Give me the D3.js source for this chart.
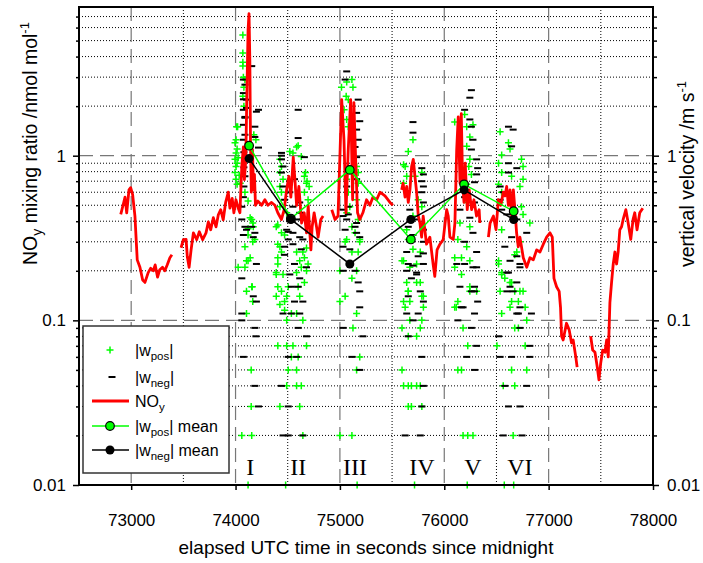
<!DOCTYPE html>
<html>
<head>
<meta charset="utf-8">
<script src="https://cdn.jsdelivr.net/npm/d3@7"></script>
<style>
  body { margin: 0; background: #fff; }
  svg { display: block; }
  text { font-family: "Liberation Sans", Arial, sans-serif; fill: #000; }
</style>
</head>
<body>
<svg id="chart" width="703" height="563"></svg>
<script>
// ---- data ---------------------------------------------------------------
const timeTicks = [73000, 74000, 75000, 76000, 77000, 78000];
const timeMinor = [73500, 74500, 75500, 76500, 77500];
const decadeTicks = [0.01, 0.1, 1];
const decadeLabels = ["0.01", "0.1", "1"];

// flight legs I..VI, placed at the time where each label sits
const legNames = ["I", "II", "III", "IV", "V", "VI"];
const legTimes = [74140, 74600, 75145, 75785, 76275, 76725];

// NOy mixing ratio [s, nmol/mol]; null marks a data gap
const noy = [
  [72900,0.44],[72922,0.50],[72941,0.56],[72957,0.45],[72979,0.62],[72995,0.64],[73014,0.58],[73036,0.43],
  [73058,0.233],[73084,0.21],[73110,0.176],[73132,0.17],[73163,0.195],[73186,0.207],[73211,0.20],[73230,0.217],
  [73253,0.183],[73274,0.203],[73300,0.21],[73322,0.20],[73345,0.217],[73371,0.24],[73390,0.25],
  [73430,null],
  [73478,0.276],[73500,0.309],[73526,0.31],[73538,0.243],[73555,0.21],[73574,0.268],[73596,0.34],[73628,0.309],
  [73653,0.345],[73685,0.309],[73717,0.34],[73739,0.396],[73762,0.355],[73787,0.42],[73813,0.37],[73835,0.438],
  [73858,0.47],[73882,0.408],[73905,0.52],[73930,0.60],[73946,0.48],[73968,0.55],[73984,0.45],[74004,0.54],
  [74026,0.48],[74042,0.45],[74060,0.86],[74075,1.13],[74085,0.715],[74098,0.95],[74107,2.1],[74120,5.8],
  [74129,7.3],[74137,3.8],[74143,1.25],[74151,0.6],[74162,1.09],[74172,0.62],[74181,0.77],[74191,0.5],
  [74215,0.53],[74250,0.50],[74281,0.54],[74310,0.50],[74345,0.52],[74377,0.50],[74405,0.45],[74440,0.41],
  [74466,0.47],[74489,0.62],[74511,0.75],[74530,0.56],[74553,0.98],[74569,0.715],[74585,0.50],[74607,0.65],
  [74633,0.39],[74658,0.45],[74680,0.34],[74696,0.50],[74722,0.268],[74734,0.37],[74753,0.45],[74776,0.37],
  [74791,0.32],[74817,0.41],[74839,0.43],
  [74880,null],
  [74922,0.47],[74953,0.41],[74982,0.43],[75017,2.19],[75039,1.25],[75058,0.45],[75080,1.09],[75103,2.19],
  [75122,0.54],[75134,2.1],[75153,0.86],[75169,0.45],[75191,0.41],[75220,0.45],[75255,0.54],[75287,0.50],
  [75316,0.56],[75352,0.54],[75384,0.6],[75432,0.57],[75480,0.52],[75508,0.50],
  [75550,null],
  [75592,0.62],[75605,0.68],[75624,0.56],[75640,0.65],[75655,0.52],[75671,0.62],[75687,0.86],[75703,0.95],
  [75719,0.75],[75735,0.6],[75751,0.43],[75767,0.39],[75783,0.32],[75798,0.43],[75830,0.29],[75862,0.32],
  [75893,0.22],[75909,0.185],[75931,0.268],[75958,0.29],[75990,0.31],[76023,0.47],[76038,0.43],[76054,0.32],
  [76086,0.31],[76102,0.39],[76119,1.09],[76134,1.72],[76151,0.68],[76163,1.8],[76176,0.68],[76189,0.52],
  [76201,0.9],[76220,0.47],[76239,0.62],[76262,0.47],[76284,0.54],[76309,0.43],[76334,0.47],[76341,0.39],
  [76380,null],
  [76423,0.32],[76439,0.39],[76471,0.43],[76496,0.355],[76518,0.54],[76541,0.50],[76566,0.60],[76582,0.57],
  [76598,0.65],[76614,0.50],[76630,0.62],[76646,0.43],[76662,0.62],[76677,0.47],[76693,0.34],[76709,0.28],
  [76725,0.32],[76757,0.24],[76790,0.21],[76821,0.24],[76853,0.233],[76885,0.268],[76917,0.26],[76949,0.29],
  [76981,0.32],[77013,0.34],[77035,0.32],[77051,0.18],[77076,0.16],[77101,0.15],[77114,0.12],[77124,0.08],
  [77139,0.076],[77171,0.096],[77197,0.0875],[77219,0.073],[77235,0.076],[77260,0.06],[77273,0.052],
  [77340,null],
  [77403,0.08],[77422,0.066],[77444,0.064],[77466,0.052],[77482,0.0435],[77499,0.055],[77518,0.066],[77540,0.064],
  [77556,0.076],[77571,0.06],[77587,0.128],[77603,0.17],[77619,0.22],[77635,0.26],[77651,0.22],[77666,0.26],
  [77682,0.355],[77699,0.37],[77714,0.41],[77740,0.47],[77762,0.39],[77787,0.31],[77809,0.41],[77825,0.45],
  [77847,0.355],[77873,0.45],[77902,0.48]
];

// |w_pos| samples [s, m/s]
const wPos = [
  // leg I
  [74070,5.4],[74070,4.2],[74070,3.7],[74070,3.5],[74075,3.0],[74080,2.6],[74070,2.3],[74080,2.0],[74010,1.5],
  [74005,1.25],[74175,1.34],[74195,1.25],[74005,1.04],[73995,0.95],[74005,0.86],[73995,0.79],[74005,0.72],
  [74090,0.6],[74155,0.41],[74170,0.37],[74120,0.36],[74090,0.28],[74185,0.31],[74105,0.23],[74140,0.24],
  [74025,0.21],[74090,0.21],[74155,0.16],[74105,0.15],[74105,0.11],[74150,0.05],[74150,0.03],[74060,0.02],
  [74155,0.02],[74120,0.01],[74015,1.1],[74025,0.97],[74015,0.9],[74035,0.76],[74015,0.67],[74090,2.9],
  [74020,1.5],[73995,1.2],[74045,0.68],[74120,0.53],[74140,0.42],[74165,0.39],[74120,0.33],[74165,0.3],
  [74120,0.23],[74160,0.16],[74165,0.13],
  // leg II
  [74600,1.15],[74520,1.06],[74425,0.95],[74630,0.99],[74440,0.86],[74425,0.79],[74455,0.72],[74425,0.65],
  [74670,0.79],[74685,0.70],[74705,0.65],[74660,0.6],[74440,0.6],[74695,0.54],[74425,0.49],[74490,0.45],
  [74390,0.37],[74440,0.34],[74425,0.28],[74405,0.38],[74470,0.33],[74405,0.29],[74440,0.26],[74585,0.26],
  [74680,0.275],[74660,0.24],[74615,0.23],[74695,0.22],[74405,0.22],[74680,0.2],[74390,0.19],[74455,0.19],
  [74660,0.17],[74505,0.16],[74405,0.16],[74615,0.14],[74390,0.14],[74470,0.13],[74490,0.10],[74645,0.10],
  [74405,0.07],[74490,0.07],[74550,0.07],[74680,0.07],[74535,0.06],[74600,0.06],[74505,0.05],[74585,0.05],
  [74490,0.04],[74585,0.04],[74630,0.04],[74425,0.03],[74615,0.03],[74645,0.02],[74480,0.01],
  [74585,1.13],[74550,1.04],[74660,0.75],[74680,0.68],[74405,0.24],[74645,0.26],[74630,0.21],[74390,0.195],
  [74585,0.195],[74600,0.16],[74440,0.15],[74490,0.14],[74425,0.125],[74470,0.115],[74535,0.11],[74585,0.11],
  // leg III
  [75115,2.9],[75065,2.8],[75125,2.6],[75015,2.6],[75060,2.3],[75080,2.19],[75040,1.9],[75065,1.66],[75080,1.5],
  [75160,0.86],[75175,0.79],[75065,0.72],[75175,0.68],[75080,0.6],[75160,0.54],[75095,0.49],[75065,0.45],
  [75175,0.41],[75115,0.37],[75145,0.34],[75065,0.31],[75190,0.31],[75190,0.30],[75050,0.30],[75115,0.26],
  [75175,0.26],[75000,0.2],[75160,0.2],[75115,0.18],[75050,0.14],[75000,0.13],[75160,0.11],
  [75125,0.09],[75190,0.06],[75160,0.05],[75000,0.02],[75115,0.02],[75165,0.01],
  // leg IV
  [75700,1.25],[75655,1.06],[75625,0.86],[75610,0.68],[75720,0.75],[75785,0.79],[75640,0.355],[75655,0.31],
  [75700,0.27],[75610,0.23],[75770,0.26],[75670,0.21],[75735,0.17],[75655,0.15],[75800,0.14],[75595,0.23],
  [75735,0.22],[75640,0.17],[75770,0.17],[75655,0.15],[75785,0.14],[75610,0.13],[75670,0.13],[75625,0.12],
  [75800,0.12],[75670,0.10],[75785,0.10],[75595,0.09],[75770,0.09],[75655,0.08],[75735,0.08],[75595,0.05],
  [75610,0.04],[75655,0.04],[75685,0.04],[75735,0.04],[75770,0.04],[75655,0.03],[75685,0.03],[75785,0.03],
  [75715,0.01],[75610,0.88],[75640,0.75],[75750,0.54],[75785,0.49],[75700,0.43],
  // leg V
  [76195,1.78],[76100,1.6],[76275,1.54],[76215,1.5],[76245,1.3],[76215,1.14],[76245,0.95],[76260,0.77],
  [76215,0.67],[76195,0.6],[76225,0.52],[76150,0.39],[76245,0.37],[76130,0.31],[76215,0.28],[76100,0.24],
  [76245,0.23],[76165,0.19],[76245,0.15],[76310,0.15],[76130,0.13],[76115,0.12],[76165,0.24],[76100,0.21],
  [76245,0.16],[76100,0.12],[76180,0.09],[76225,0.07],[76130,0.05],[76165,0.05],[76180,0.02],[76225,0.02],
  [76275,0.02],[76220,0.01],[76235,0.86],[76175,0.77],
  // leg VI
  [76535,1.4],[76615,1.2],[76550,1.01],[76630,1.1],[76740,0.95],[76520,0.9],[76550,0.79],[76645,0.75],
  [76755,0.86],[76725,0.65],[76755,0.72],[76520,0.67],[76550,0.6],[76535,0.52],[76740,0.49],[76755,0.44],
  [76820,0.39],[76550,0.355],[76725,0.30],[76695,0.26],[76520,0.23],[76550,0.195],[76580,0.18],[76630,0.17],
  [76755,0.15],[76675,0.15],[76710,0.13],[76630,0.12],[76775,0.12],[76520,0.22],[76675,0.25],[76550,0.19],
  [76645,0.17],[76535,0.15],[76725,0.15],[76645,0.13],[76550,0.11],[76790,0.10],[76675,0.09],[76710,0.09],
  [76505,0.07],[76775,0.07],[76645,0.05],[76790,0.05],[76565,0.04],[76675,0.04],[76660,0.02],[76575,0.01],
  [76665,0.01]
];

// |w_neg| samples [s, m/s]
const wNeg = [
  // leg I
  [74155,3.5],[74075,2.9],[74090,2.7],[74075,2.4],[74105,2.19],[74075,1.9],[74220,1.9],[74090,1.7],[74185,1.5],
  [74075,1.25],[74220,1.12],[74075,0.56],[74060,0.49],[74060,0.41],[74090,0.37],[74155,0.37],[74185,0.34],
  [74075,0.33],[74105,0.355],[74170,0.32],[74200,0.22],[74060,0.18],[74170,0.14],[74200,0.13],[74060,0.11],
  [74060,0.10],[74185,0.09],[74195,0.08],[74075,0.06],[74185,0.04],[74220,0.03],
  [74075,2.2],[74105,1.95],[74200,1.85],[74090,1.72],[74075,1.54],[74090,1.34],[74185,1.3],[74120,1.17],
  [74080,1.05],[74080,0.85],[74090,0.75],[74080,0.65],
  // leg II
  [74600,1.9],[74600,1.28],[74440,1.04],[74440,1.0],[74440,0.95],[74455,0.86],[74440,0.79],[74520,0.7],
  [74565,0.72],[74455,0.65],[74520,0.6],[74470,0.54],[74615,0.52],[74550,0.49],[74615,0.45],[74645,0.41],
  [74520,0.4],[74490,0.355],[74550,0.34],[74505,0.31],[74645,0.31],[74470,0.28],[74585,0.41],[74505,0.345],
  [74615,0.32],[74550,0.29],[74630,0.27],[74470,0.25],[74565,0.22],[74680,0.21],[74520,0.19],[74615,0.18],
  [74535,0.16],[74600,0.16],[74565,0.13],[74645,0.13],[74455,0.11],[74535,0.11],[74615,0.11],[74600,0.09],
  [74680,0.08],[74505,0.06],[74585,0.06],[74440,0.04],[74505,0.03],[74455,0.02],[74505,0.02],[74645,0.02],
  [74660,0.98],
  // leg III
  [75065,3.25],[75050,2.9],[75175,2.19],[75160,1.82],[75190,1.62],[75160,1.44],[75175,1.25],[75145,1.13],
  [75160,0.98],[75125,0.79],[75160,0.72],[75065,0.65],[75145,0.6],[75080,0.49],[75030,0.43],[75065,0.41],
  [75145,0.37],[75050,0.355],[75160,0.34],[75030,0.28],[75030,0.47],[75080,0.44],[75160,0.39],[75190,0.32],
  [75095,0.27],[75030,0.2],[75145,0.2],[75175,0.17],[75190,0.15],[75190,0.12],[75030,0.09],[75220,0.08],
  [75115,0.06],[75190,0.05],
  // leg IV
  [75700,1.6],[75700,1.38],[75785,0.84],[75800,0.77],[75785,0.7],[75800,0.65],[75785,0.6],[75800,0.52],
  [75670,0.47],[75735,0.41],[75655,0.37],[75800,0.355],[75700,0.33],[75800,0.30],[75640,0.26],[75750,0.245],
  [75655,0.22],[75800,0.22],[75640,0.2],[75735,0.195],[75685,0.18],[75800,0.255],[75700,0.215],[75735,0.19],
  [75770,0.15],[75655,0.14],[75800,0.13],[75640,0.11],[75750,0.11],[75700,0.10],[75655,0.08],[75785,0.06],
  [75800,0.04],[75785,0.03],[75625,0.02],[75770,0.02],[75750,0.01],
  // leg V
  [76260,2.5],[76245,2.25],[76195,1.9],[76245,1.66],[76260,1.5],[76275,1.25],[76260,1.09],[76310,0.95],
  [76320,0.84],[76310,0.77],[76290,0.69],[76195,0.56],[76290,0.52],[76150,0.47],[76245,0.42],[76275,0.34],
  [76195,0.30],[76310,0.26],[76195,0.22],[76310,0.21],[76150,0.16],[76290,0.15],[76180,0.12],[76120,0.22],
  [76275,0.21],[76290,0.16],[76260,0.15],[76165,0.12],[76320,0.13],[76290,0.11],[76130,0.10],[76260,0.09],
  [76310,0.07],[76215,0.06],[76290,0.05],
  // leg VI
  [76615,1.5],[76660,1.44],[76645,1.14],[76615,0.9],[76695,0.84],[76615,0.79],[76535,0.65],[76565,0.6],
  [76535,0.54],[76550,0.47],[76600,0.44],[76695,0.41],[76790,0.34],[76645,0.32],[76580,0.28],[76695,0.245],
  [76725,0.21],[76615,0.195],[76695,0.17],[76600,0.15],[76725,0.12],[76710,0.11],[76630,0.23],[76725,0.22],
  [76600,0.195],[76630,0.16],[76660,0.15],[76695,0.11],[76835,0.11],[76725,0.09],[76520,0.08],[76820,0.07],
  [76535,0.06],[76645,0.06],[76820,0.06],[76580,0.04],[76790,0.04],[76615,0.03],[76725,0.03],[76565,0.02],
  [76745,0.02]
];

// leg means of |w_pos| and |w_neg|
const posMean = [[74130,1.15],[74530,0.415],[75095,0.82],[75680,0.31],[76190,0.67],[76665,0.46]];
const negMean = [[74130,0.96],[74530,0.41],[75095,0.22],[75680,0.41],[76190,0.62],[76665,0.41]];

// ---- layout -------------------------------------------------------------
const L = 79, R = 653, T = 7, B = 485;
const GREEN = "#00ff00", RED = "#ff0000";

const x = d3.scaleLinear().domain([72500, 78000]).range([L, R]);
const y = d3.scaleLog().domain([0.01, 8]).range([B, T]);

const svg = d3.select("#chart");

const minorY = [];
[0.01, 0.1, 1].forEach(dec => {
  for (let k = 2; k <= 9; k++) {
    const v = +(dec * k).toPrecision(3);
    if (v < 8) minorY.push(v);
  }
});

// ---- grid ---------------------------------------------------------------
const grid = svg.append("g");
grid.selectAll(".hminor").data(minorY).join("line")
  .attr("x1", L).attr("x2", R)
  .attr("y1", d => y(d)).attr("y2", d => y(d))
  .attr("stroke", "#000").attr("stroke-width", 1).attr("stroke-dasharray", "1,2");
grid.selectAll(".vminor").data(timeMinor).join("line")
  .attr("x1", d => x(d)).attr("x2", d => x(d))
  .attr("y1", T).attr("y2", B)
  .attr("stroke", "#000").attr("stroke-width", 1).attr("stroke-dasharray", "1,2");
grid.selectAll(".hmajor").data([0.1, 1]).join("line")
  .attr("x1", L).attr("x2", R)
  .attr("y1", d => y(d)).attr("y2", d => y(d))
  .attr("stroke", "#777").attr("stroke-width", 1.2).attr("stroke-dasharray", "14,7");
grid.selectAll(".vmajor").data(timeTicks.filter(t => t < 78000)).join("line")
  .attr("x1", d => x(d)).attr("x2", d => x(d))
  .attr("y1", T).attr("y2", B)
  .attr("stroke", "#777").attr("stroke-width", 1.2).attr("stroke-dasharray", "14,7");

// ---- vertical velocity samples ------------------------------------------
svg.append("g").selectAll("path").data(wPos).join("path")
  .attr("transform", d => `translate(${x(d[0])},${y(d[1])})`)
  .attr("d", "M-3.5,0H3.5M0,-3.5V3.5")
  .attr("stroke", GREEN).attr("stroke-width", 1.5).attr("fill", "none");

svg.append("g").selectAll("path").data(wNeg).join("path")
  .attr("transform", d => `translate(${x(d[0])},${y(d[1])})`)
  .attr("d", "M-3.5,0H3.5")
  .attr("stroke", "#000").attr("stroke-width", 2).attr("fill", "none");

// ---- NOy ----------------------------------------------------------------
const noyLine = d3.line()
  .defined(d => d[1] !== null)
  .x(d => x(d[0])).y(d => y(d[1]));
svg.append("path").datum(noy)
  .attr("d", noyLine)
  .attr("fill", "none").attr("stroke", RED).attr("stroke-width", 2.8)
  .attr("stroke-linejoin", "round");

// ---- leg means ----------------------------------------------------------
const meanLine = d3.line().x(d => x(d[0])).y(d => y(d[1]));
svg.append("path").datum(posMean).attr("d", meanLine)
  .attr("fill", "none").attr("stroke", GREEN).attr("stroke-width", 1.5);
svg.append("g").selectAll("circle").data(posMean).join("circle")
  .attr("cx", d => x(d[0])).attr("cy", d => y(d[1])).attr("r", 4.3)
  .attr("fill", GREEN).attr("stroke", "#000").attr("stroke-width", 1.2);
svg.append("path").datum(negMean).attr("d", meanLine)
  .attr("fill", "none").attr("stroke", "#000").attr("stroke-width", 1.5);
svg.append("g").selectAll("circle").data(negMean).join("circle")
  .attr("cx", d => x(d[0])).attr("cy", d => y(d[1])).attr("r", 4.5)
  .attr("fill", "#000");

// ---- leg labels ---------------------------------------------------------
svg.append("g").selectAll("text").data(legNames).join("text")
  .attr("x", (d, i) => x(legTimes[i]))
  .attr("y", 475)
  .attr("text-anchor", "middle")
  .style("font-family", "'Liberation Serif', 'Times New Roman', serif")
  .attr("font-size", 24)
  .text(d => d);

// ---- axes ---------------------------------------------------------------
function styleAxis(g) {
  g.select(".domain").remove();
  g.selectAll(".tick line").attr("stroke", "#000").attr("stroke-width", 1.5);
  g.selectAll(".tick text").attr("font-size", 17)
    .style("font-family", "'Liberation Sans', Arial, sans-serif");
}
const fmtY = d => decadeLabels[decadeTicks.indexOf(d)];

svg.append("g").attr("transform", `translate(${L},0)`)
  .call(d3.axisLeft(y).tickValues(decadeTicks).tickFormat(fmtY).tickSize(6).tickPadding(7).tickSizeOuter(0))
  .call(styleAxis);
svg.append("g").attr("transform", `translate(${L},0)`)
  .call(d3.axisLeft(y).tickValues(minorY).tickFormat("").tickSize(3).tickSizeOuter(0))
  .call(styleAxis);
svg.append("g").attr("transform", `translate(${R},0)`)
  .call(d3.axisRight(y).tickValues(decadeTicks).tickFormat(fmtY).tickSize(6).tickPadding(8).tickSizeOuter(0))
  .call(styleAxis);
svg.append("g").attr("transform", `translate(${R},0)`)
  .call(d3.axisRight(y).tickValues(minorY).tickFormat("").tickSize(4).tickSizeOuter(0))
  .call(styleAxis);
svg.append("g").attr("transform", `translate(0,${B})`)
  .call(d3.axisBottom(x).tickValues(timeTicks).tickFormat(d3.format("d")).tickSize(5).tickPadding(24).tickSizeOuter(0))
  .call(styleAxis);

// frame
svg.append("rect").attr("x", L).attr("y", T).attr("width", R - L).attr("height", B - T)
  .attr("fill", "none").attr("stroke", "#000").attr("stroke-width", 2);

// ---- titles -------------------------------------------------------------
svg.append("text").attr("x", (L + R) / 2).attr("y", 554)
  .attr("text-anchor", "middle").attr("font-size", 19)
  .text("elapsed UTC time in seconds since midnight");

const yTitle = svg.append("text").attr("transform", "translate(37,265) rotate(-90)")
  .attr("font-size", 19.5);
yTitle.append("tspan").text("NO");
yTitle.append("tspan").attr("font-size", 14).attr("dy", 5).text("y");
yTitle.append("tspan").attr("dy", -5).text(" mixing ratio /nmol mol");
yTitle.append("tspan").attr("font-size", 13).attr("dy", -8).text("-1");

const y2Title = svg.append("text").attr("transform", "translate(694,267) rotate(-90)")
  .attr("font-size", 19.5);
y2Title.append("tspan").text("vertical velocity /m s");
y2Title.append("tspan").attr("font-size", 13).attr("dy", -8).text("-1");

// ---- legend -------------------------------------------------------------
const lg = svg.append("g");
lg.append("rect").attr("x", 83).attr("y", 326).attr("width", 146).attr("height", 147)
  .attr("fill", "#fff").attr("stroke", "#333").attr("stroke-width", 1.5);

const rows = [350, 377, 401, 426, 450];
const symX = 110, txtX = 135;

lg.append("path").attr("transform", `translate(${symX},${rows[0]})`)
  .attr("d", "M-3.5,0H3.5M0,-3.5V3.5").attr("stroke", GREEN).attr("stroke-width", 1.5);
lg.append("path").attr("transform", `translate(${symX + 2},${rows[1]})`)
  .attr("d", "M-3.5,0H3.5").attr("stroke", "#000").attr("stroke-width", 2);
lg.append("line").attr("x1", 92).attr("x2", 129).attr("y1", rows[2]).attr("y2", rows[2])
  .attr("stroke", RED).attr("stroke-width", 2.8);
lg.append("line").attr("x1", 92).attr("x2", 129).attr("y1", rows[3]).attr("y2", rows[3])
  .attr("stroke", GREEN).attr("stroke-width", 1.5);
lg.append("circle").attr("cx", symX).attr("cy", rows[3]).attr("r", 4.3)
  .attr("fill", GREEN).attr("stroke", "#000").attr("stroke-width", 1.2);
lg.append("line").attr("x1", 92).attr("x2", 129).attr("y1", rows[4]).attr("y2", rows[4])
  .attr("stroke", "#000").attr("stroke-width", 1.5);
lg.append("circle").attr("cx", symX).attr("cy", rows[4]).attr("r", 4.5).attr("fill", "#000");

function legendText(yc, main, sub, tail) {
  const t = lg.append("text").attr("x", txtX).attr("y", yc + 5.5).attr("font-size", 16);
  t.append("tspan").text(main);
  t.append("tspan").attr("font-size", 11.5).attr("dy", 4).text(sub);
  t.append("tspan").attr("dy", -4).text(tail);
}
legendText(rows[0], "|w", "pos", "|");
legendText(rows[1], "|w", "neg", "|");
legendText(rows[2], "NO", "y", "");
legendText(rows[3], "|w", "pos", "| mean");
legendText(rows[4], "|w", "neg", "| mean");
</script>
</body>
</html>
